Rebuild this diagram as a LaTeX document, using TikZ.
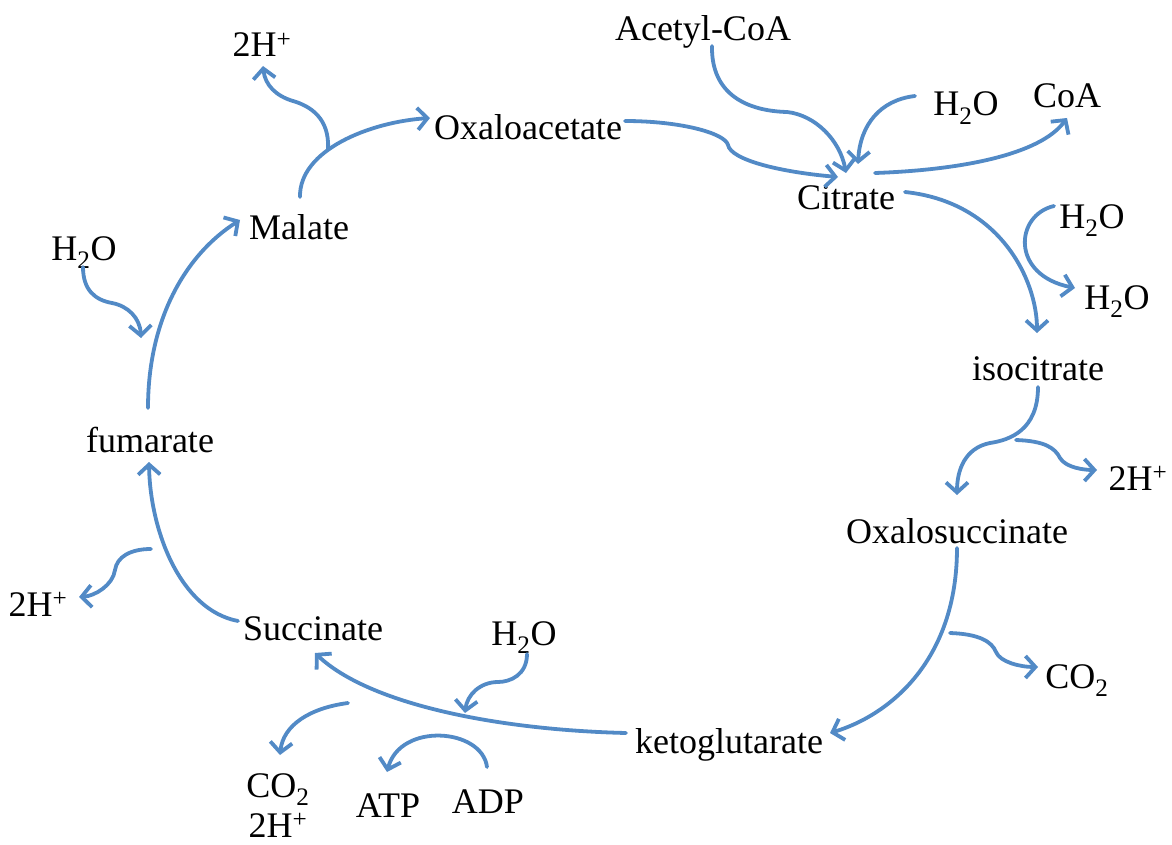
\documentclass[tikz,border=0pt]{standalone}
\usepackage{fontspec}
\setmainfont{Liberation Serif}
\usetikzlibrary{arrows.meta}
\definecolor{flow}{RGB}{82,138,198}
\begin{document}
\begin{tikzpicture}[x=1pt,y=-1pt,
  lbl/.style={anchor=base,inner sep=0pt,font=\fontsize{36}{40}\selectfont},
  conn/.style={draw=flow,line width=3.8pt,line cap=round,line join=round},
  arr/.style={conn,-{Straight Barb[length=10pt,width=22pt]}}]
\useasboundingbox (0,0) rectangle (1172,845);
% labels
\node[lbl] (hTop) at (262,57) {2H\textsuperscript{+}};
\node[lbl] (acetyl) at (703,41) {Acetyl-CoA};
\node[lbl] (wCit) at (966,116) {H\textsubscript{2}O};
\node[lbl] (coa) at (1067,108) {CoA};
\node[lbl] (oxa) at (528,140) {Oxaloacetate};
\node[lbl] (cit) at (846,210) {Citrate};
\node[lbl] (mal) at (299,240) {Malate};
\node[lbl] (wL) at (84,260) {H\textsubscript{2}O};
\node[lbl] (wR1) at (1092,228) {H\textsubscript{2}O};
\node[lbl] (wR2) at (1117,309) {H\textsubscript{2}O};
\node[lbl] (iso) at (1038,380) {isocitrate};
\node[lbl] (fum) at (150,452) {fumarate};
\node[lbl] (hR) at (1138,490) {2H\textsuperscript{+}};
\node[lbl] (oxs) at (957,543) {Oxalosuccinate};
\node[lbl] (hL) at (38,616) {2H\textsuperscript{+}};
\node[lbl] (suc) at (313,640) {Succinate};
\node[lbl] (wB) at (524,645) {H\textsubscript{2}O};
\node[lbl] (co2R) at (1077,688) {CO\textsubscript{2}};
\node[lbl] (keto) at (729,753) {ketoglutarate};
\node[lbl] (co2B) at (278,797) {CO\textsubscript{2}};
\node[lbl] (hB) at (278,837) {2H\textsuperscript{+}};
\node[lbl] (atp) at (388,817) {ATP};
\node[lbl] (adp) at (488,813) {ADP};
% connector end points
\coordinate (malOut) at (300,197);
\coordinate (j1) at (328,150);
\coordinate (oxaIn) at (430,118);
\coordinate (hTopIn) at (263,66);
\coordinate (oxaOut) at (625,121);
\coordinate (citIn1) at (838,177);
\coordinate (acOut) at (712,46);
\coordinate (citIn2) at (846,173);
\coordinate (wCitOut) at (915,96);
\coordinate (citIn3) at (858,164);
\coordinate (citOut1) at (875,173);
\coordinate (coaIn) at (1067,118);
\coordinate (citOut2) at (905,192);
\coordinate (isoIn) at (1037,333);
\coordinate (wR1Out) at (1054,206);
\coordinate (wR2In) at (1075,288);
\coordinate (isoOut) at (1038,387);
\coordinate (j2) at (1016,440);
\coordinate (oxsIn) at (957,495);
\coordinate (hRIn) at (1097,470);
\coordinate (oxsOut) at (957,548);
\coordinate (j3) at (950,633);
\coordinate (ketoIn) at (830,733);
\coordinate (co2RIn) at (1038,667);
\coordinate (ketoOut) at (626,733);
\coordinate (sucIn) at (315,653);
\coordinate (wBOut) at (527,654);
\coordinate (j4) at (465,713);
\coordinate (j5) at (348,703);
\coordinate (co2BIn) at (280,755);
\coordinate (adpOut) at (487,767);
\coordinate (atpIn) at (387,772);
\coordinate (sucOut) at (238,621);
\coordinate (fumIn) at (149,462);
\coordinate (j6) at (151,549);
\coordinate (hLIn) at (79,597);
\coordinate (fumOut) at (148,408);
\coordinate (malIn) at (240,220);
\coordinate (wLOut) at (83,267);
\coordinate (j7) at (141,338);
% connectors
\draw[arr] (malOut) .. controls (299,150) and (370,122) .. (oxaIn);
\draw[arr] (j1) .. controls (330,118) and (310,106) .. (293,101) .. controls (276,96) and (265,85) .. (hTopIn);
\draw[arr] (oxaOut) .. controls (680,121) and (725,133) .. (728,145) .. controls (731,160) and (780,172) .. (citIn1);
\draw[arr] (acOut) .. controls (711,95) and (748,111) .. (787,112) .. controls (815,115) and (840,140) .. (citIn2);
\draw[arr] (wCitOut) .. controls (880,100) and (860,125) .. (citIn3);
\draw[arr] (citOut1) .. controls (960,170) and (1040,155) .. (coaIn);
\draw[arr] (citOut2) .. controls (1000,202) and (1037,280) .. (isoIn);
\draw[arr] (wR1Out) .. controls (1015,215) and (1010,275) .. (wR2In);
\draw[arr] (isoOut) .. controls (1038,430) and (1010,440) .. (990,443) .. controls (965,448) and (957,470) .. (oxsIn);
\draw[arr] (j2) .. controls (1045,441) and (1055,448) .. (1060,458) .. controls (1066,468) and (1085,470) .. (hRIn);
\draw[arr] (oxsOut) .. controls (957,660) and (890,715) .. (ketoIn);
\draw[arr] (j3) .. controls (980,634) and (992,642) .. (996,652) .. controls (1000,662) and (1020,667) .. (co2RIn);
\draw[arr] (ketoOut) .. controls (500,730) and (370,705) .. (sucIn);
\draw[arr] (wBOut) .. controls (527,675) and (510,682) .. (498,682) .. controls (480,682) and (467,695) .. (j4);
\draw[arr] (j5) .. controls (310,708) and (283,725) .. (co2BIn);
\draw[arr] (adpOut) .. controls (482,728) and (400,722) .. (atpIn);
\draw[arr] (sucOut) .. controls (180,610) and (150,530) .. (fumIn);
\draw[arr] (j6) .. controls (130,549) and (117,557) .. (115,570) .. controls (113,585) and (95,596) .. (hLIn);
\draw[arr] (fumOut) .. controls (148,320) and (185,255) .. (malIn);
\draw[arr] (wLOut) .. controls (83,290) and (95,300) .. (112,303) .. controls (128,306) and (140,318) .. (j7);
\end{tikzpicture}
\end{document}
